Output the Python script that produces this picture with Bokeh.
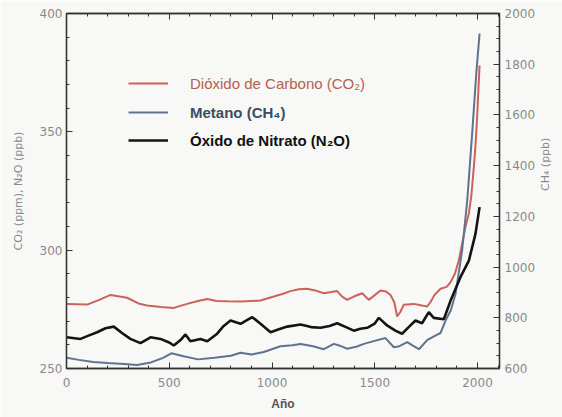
import math
from bokeh.plotting import figure
from bokeh.models import Range1d, LinearAxis, FixedTicker, Legend, LegendItem
from bokeh.embed import file_html
from bokeh.resources import INLINE

# ---- data ----
co2_years = [0, 100, 160, 214, 295, 350, 392, 460, 522, 587, 640, 685, 730, 782, 850, 944,
             1009, 1050, 1090, 1130, 1171, 1210, 1252, 1290, 1317, 1340, 1366, 1398, 1439,
             1471, 1500, 1528, 1555, 1577, 1595, 1609, 1625, 1641, 1690, 1730, 1755, 1771,
             1790, 1820, 1850, 1869, 1890, 1909, 1941, 1958, 1970, 1982, 1990, 1998, 2010]
co2_vals = [277.3, 277.0, 279.0, 281.1, 279.9, 277.5, 276.6, 276.0, 275.6, 277.3, 278.5, 279.4,
            278.5, 278.4, 278.3, 278.7, 280.4, 281.5, 282.7, 283.5, 283.7, 283.0, 281.8, 282.3,
            282.7, 280.5, 279.0, 280.4, 281.8, 279.0, 281.0, 283.0, 282.5, 281.0, 278.0, 272.0,
            274.0, 276.9, 277.3, 276.6, 276.2, 278.0, 281.0, 283.7, 284.5, 286.5, 290.0, 295.6,
            309.7, 315.5, 323.0, 335.0, 344.0, 356.0, 378.0]

n2o_years = [0, 68, 110, 149, 190, 230, 270, 311, 360, 409, 457, 500, 522, 555, 579, 603, 652,
             685, 733, 765, 798, 847, 880, 904, 944, 993, 1030, 1074, 1139, 1190, 1236, 1280,
             1317, 1360, 1398, 1430, 1463, 1500, 1520, 1560, 1600, 1633, 1665, 1698, 1730, 1763,
             1787, 1836, 1869, 1917, 1958, 1990, 2010]
n2o_vals = [263.2, 262.5, 264.0, 265.3, 267.0, 267.7, 265.0, 262.5, 260.7, 263.2, 262.5, 261.0,
            259.7, 262.0, 264.4, 261.5, 262.5, 261.5, 264.7, 268.0, 270.3, 268.9, 270.5, 271.7,
            268.9, 265.3, 266.5, 267.7, 268.6, 267.5, 267.2, 268.0, 269.1, 267.5, 266.0, 266.8,
            267.2, 269.0, 271.4, 268.2, 266.0, 264.7, 267.5, 270.3, 269.1, 273.8, 271.4, 270.8,
            278.7, 288.6, 295.6, 306.9, 318.2]

ch4_years = [0, 60, 130, 200, 280, 342, 411, 470, 510, 570, 640, 720, 800, 847, 900, 960, 1041,
             1100, 1139, 1200, 1252, 1301, 1330, 1366, 1410, 1447, 1495, 1552, 1593, 1620, 1658,
             1685, 1715, 1755, 1790, 1820, 1845, 1870, 1893, 1925, 1950, 1974, 1994, 2010]
ch4_vals = [642, 634, 626, 622, 618, 614, 624, 642, 660, 648, 636, 642, 650, 662, 655, 665, 688,
            692, 697, 688, 676, 697, 690, 678, 686, 697, 708, 720, 684, 688, 704, 690, 676, 712,
            728, 740, 790, 830, 894, 1065, 1262, 1527, 1763, 1921]

x_ticks = [0, 500, 1000, 1500, 2000]
left_ticks = [250, 300, 350, 400]
right_ticks = [600, 800, 1000, 1200, 1400, 1600, 1800, 2000]

labels = ["Dióxido de Carbono (CO₂)", "Metano (CH₄)", "Óxido de Nitrato (N₂O)"]
x_title = "Año"
left_title = "CO₂ (ppm), N₂O (ppb)"
right_title = "CH₄ (ppb)"

# ---- styles ----
BG = "#f8f8f6"
AXC = "#333333"
TICKC = "#8a8a8a"
RED = "#cc6258"
BLUE = "#5f7390"
BLACK = "#141414"

p = figure(width=562, height=417, output_backend="svg", toolbar_location=None,
           x_range=Range1d(0, 2107), y_range=Range1d(250, 400),
           min_border_left=66, min_border_right=63, min_border_top=13, min_border_bottom=49,
           background_fill_color=BG, border_fill_color=BG, x_axis_location="below")
p.extra_y_ranges = {"ch4": Range1d(600, 2000)}
p.grid.visible = False
p.outline_line_color = AXC
p.outline_line_width = 1.3


def style_axis(ax):
    ax.axis_line_color = AXC
    ax.axis_line_width = 1.3
    ax.major_tick_line_color = AXC
    ax.minor_tick_line_color = AXC
    ax.major_tick_in = 6
    ax.major_tick_out = 0
    ax.minor_tick_in = 3
    ax.minor_tick_out = 0
    ax.major_label_text_font = "DejaVu Sans"
    ax.major_label_text_font_size = "12px"
    ax.major_label_text_color = TICKC
    ax.axis_label_text_font = "DejaVu Sans"
    ax.axis_label_text_font_size = "11px"
    ax.axis_label_text_font_style = "normal"
    ax.axis_label_text_color = TICKC


xa = p.xaxis[0]
style_axis(xa)
xa.ticker = FixedTicker(ticks=x_ticks, minor_ticks=list(range(0, 2101, 100)))
xa.major_label_standoff = 9
xa.axis_label = x_title
xa.axis_label_text_font = "Liberation Sans"
xa.axis_label_text_font_size = "12px"
xa.axis_label_text_font_style = "bold"
xa.axis_label_text_color = "#555555"
xa.axis_label_standoff = 7

ya = p.yaxis[0]
style_axis(ya)
ya.ticker = FixedTicker(ticks=left_ticks, minor_ticks=list(range(250, 401, 10)))
ya.major_label_standoff = 4
ya.axis_label = left_title
ya.axis_label_standoff = 12

top = LinearAxis(ticker=FixedTicker(ticks=x_ticks, minor_ticks=list(range(0, 2101, 100))))
style_axis(top)
top.major_label_overrides = {t: "" for t in x_ticks}
top.major_label_standoff = 0
p.add_layout(top, "above")

right = LinearAxis(y_range_name="ch4",
                   ticker=FixedTicker(ticks=right_ticks, minor_ticks=list(range(600, 2001, 50))))
style_axis(right)
right.major_label_standoff = 5
right.axis_label = right_title
right.axis_label_standoff = 7
try:
    right.axis_label_orientation = math.pi / 2
except Exception:
    pass
p.add_layout(right, "right")

r_co2 = p.line(co2_years, co2_vals, line_color=RED, line_width=2)
r_ch4 = p.line(ch4_years, ch4_vals, line_color=BLUE, line_width=2, y_range_name="ch4")
r_n2o = p.line(n2o_years, n2o_vals, line_color=BLACK, line_width=2.6)

leg_specs = [
    (r_co2, labels[0], "#b5604f", "normal", 275),
    (r_ch4, labels[1], "#3d4d60", "bold", 246),
    (r_n2o, labels[2], "#111111", "bold", 218),
]
for r, lab, col, fs, ypos in leg_specs:
    lg = Legend(items=[LegendItem(label=lab, renderers=[r])], location=(62, ypos),
                glyph_width=40, glyph_height=20, label_standoff=22, padding=0, margin=0,
                spacing=0, border_line_color=None, background_fill_alpha=0,
                label_text_color=col, label_text_font="Liberation Sans",
                label_text_font_size="15px", label_text_font_style=fs)
    p.add_layout(lg)

open("out.html", "w").write(file_html(p, INLINE))
